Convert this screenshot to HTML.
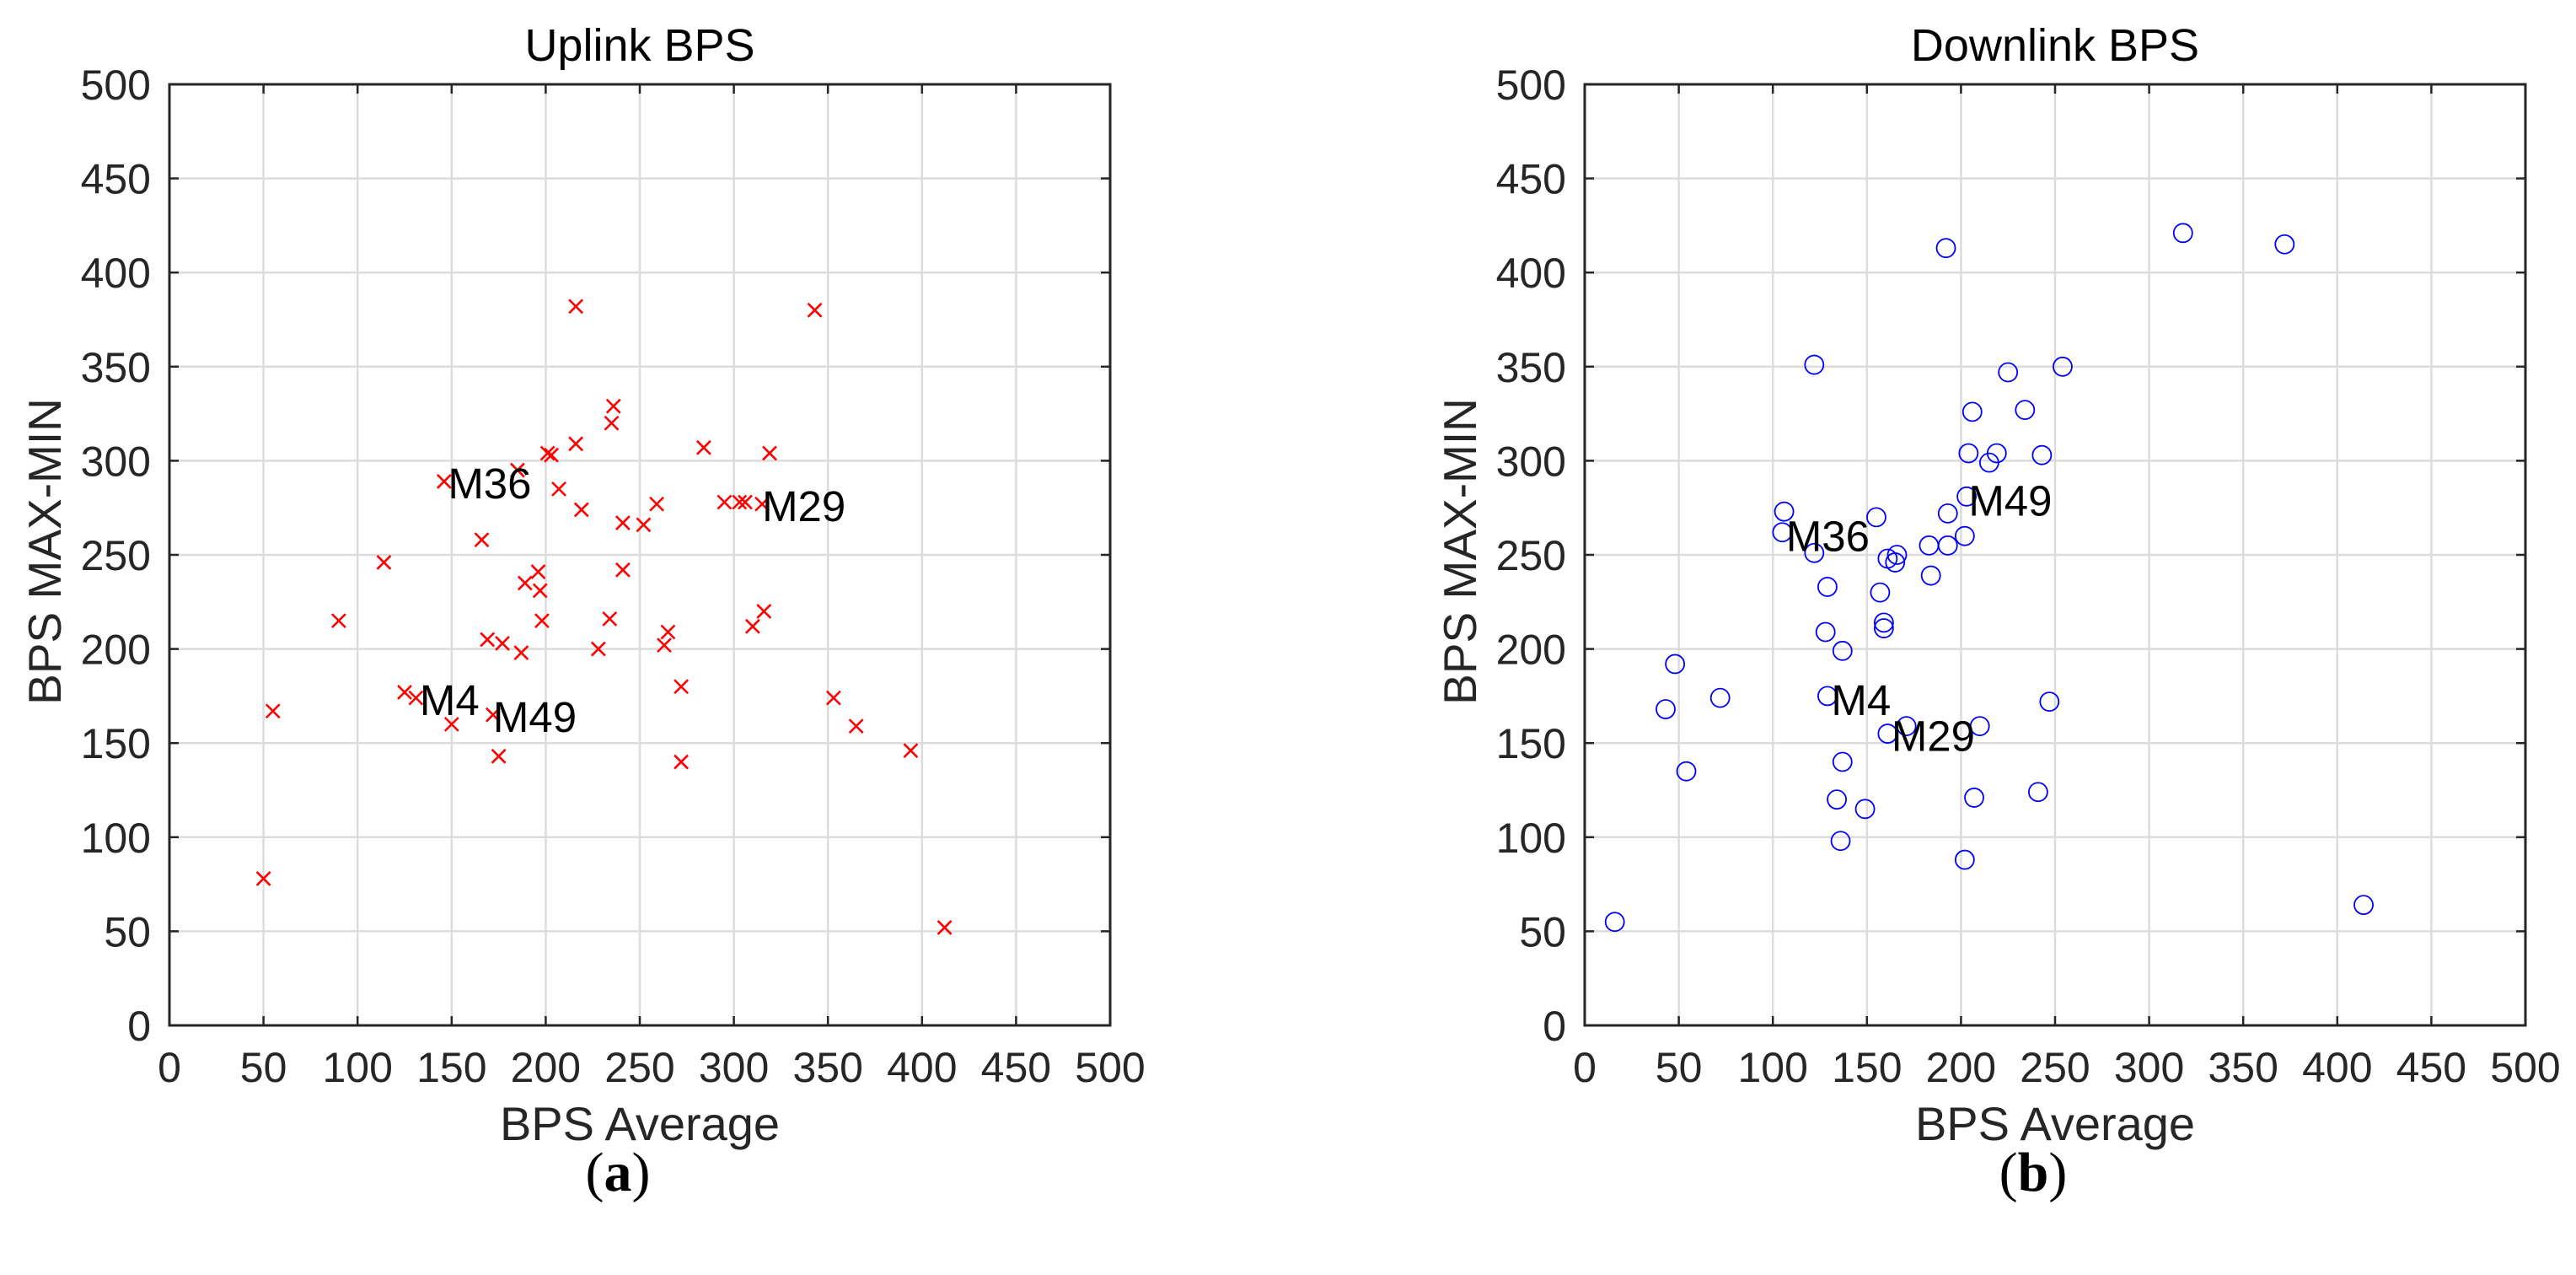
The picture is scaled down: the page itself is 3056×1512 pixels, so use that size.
<!DOCTYPE html>
<html><head><meta charset="utf-8"><style>
body{margin:0;background:#fff}
svg text{font-family:"Liberation Sans",sans-serif}
</style></head><body>
<svg id="fig" width="3056" height="1507" xmlns="http://www.w3.org/2000/svg"></svg>
<script>
const xTicks=[0,50,100,150,200,250,300,350,400,450,500];
const yTicks=[0,50,100,150,200,250,300,350,400,450,500];
const upX=[50,55,90,114,125,131,146,150,166,169,172,175,177,185,187,189,196,197,198,201,203,207,216,216,219,228,234,235,236,241,241,252,259,263,265,272,272,284,295,303,306,315,310,316,319,343,353,365,394,412];
const upY=[78,167,215,246,177,174,289,160,258,205,165,143,203,295,198,235,241,231,215,304,303,285,309,382,274,200,216,320,329,267,242,266,277,202,209,180,140,307,278,278,278,277,212,220,304,380,174,159,146,52];
const dnX=[16,43,48,54,72,105,106,122,122,128,129,129,134,136,137,137,149,155,157,159,159,161,161,165,166,171,183,184,192,193,193,202,202,203,204,206,207,210,215,219,225,234,241,243,247,254,318,372,414];
const dnY=[55,168,192,135,174,262,273,351,251,209,233,175,120,98,199,140,115,270,230,211,214,155,248,246,250,159,255,239,413,255,272,260,88,281,304,326,121,159,299,304,347,327,124,303,172,350,421,415,64];
const upLabels=["M36","M29","M4","M49"];
const upLabX=[148,315,133,172];
const upLabY=[288,276,173,164];
const dnLabels=["M36","M49","M4","M29"];
const dnLabX=[107,204,131,163];
const dnLabY=[260,279,173,154];

const NS="http://www.w3.org/2000/svg";
const svg=document.getElementById('fig');
function mk(tag,attrs,parent){const e=document.createElementNS(NS,tag);for(const k in attrs)e.setAttribute(k,attrs[k]);(parent||svg).appendChild(e);return e;}
function panel(id,left,title,sub,xs,ys,marker,labs,lx,ly){
  const top=100,size=1116,bottom=top+size;
  const sx=v=>left+v/500*size, sy=v=>bottom-v/500*size;
  const g=mk('g',{});
  
  
  xTicks.forEach(t=>{const l=mk('line',{x1:sx(t),x2:sx(t),y1:top,y2:bottom,stroke:'#dcdcdc','stroke-width':2.5},g);});
  yTicks.forEach(t=>{const l=mk('line',{x1:left,x2:left+size,y1:sy(t),y2:sy(t),stroke:'#dcdcdc','stroke-width':2.5},g);});
  xTicks.forEach(t=>{mk('line',{x1:sx(t),x2:sx(t),y1:bottom,y2:bottom-11,stroke:'#262626','stroke-width':2.5},g);mk('line',{x1:sx(t),x2:sx(t),y1:top,y2:top+11,stroke:'#262626','stroke-width':2.5},g);
    const tx=mk('text',{x:sx(t),y:bottom+67,'font-size':50,fill:'#262626','text-anchor':'middle'},g);tx.textContent=t;});
  yTicks.forEach(t=>{mk('line',{x1:left,x2:left+11,y1:sy(t),y2:sy(t),stroke:'#262626','stroke-width':2.5},g);mk('line',{x1:left+size,x2:left+size-11,y1:sy(t),y2:sy(t),stroke:'#262626','stroke-width':2.5},g);
    const tx=mk('text',{x:left-22,y:sy(t)+18,'font-size':50,fill:'#262626','text-anchor':'end'},g);tx.textContent=t;});
  const fr=mk('rect',{x:left,y:top,width:size,height:size,fill:'none',stroke:'#262626','stroke-width':3},g);
  
  xs.forEach((v,i)=>{const cx=sx(v),cy=sy(ys[i]);let m;
    if(marker==='x'){m=mk('path',{d:`M${cx-8},${cy-8}L${cx+8},${cy+8}M${cx-8},${cy+8}L${cx+8},${cy-8}`,stroke:'#ff0000','stroke-width':2.6,fill:'none'},g);}
    else{m=mk('circle',{cx:cx,cy:cy,r:11,stroke:'#0000ff','stroke-width':1.8,fill:'none'},g);}
    });
  labs.forEach((s,i)=>{const t=mk('text',{x:sx(lx[i]),y:sy(ly[i])+18,'font-size':51,fill:'#000'},g);t.textContent=s;});
  const tt=mk('text',{x:left+size/2,y:72,'font-size':54,fill:'#000','text-anchor':'middle'},g);tt.textContent=title;
  const xl=mk('text',{x:left+size/2,y:1352,'font-size':56,fill:'#262626','text-anchor':'middle'},g);xl.textContent='BPS Average';
  const yx=left-129,yy=top+size/2-4;
  const yl=mk('text',{x:yx,y:yy,'font-size':55,fill:'#262626','text-anchor':'middle',transform:`rotate(-90 ${yx} ${yy})`},g);yl.textContent='BPS MAX-MIN';
  const cap=mk('text',{x:left+size/2-26,y:1412,'font-size':66,fill:'#000','text-anchor':'middle'},g);
  cap.style.fontFamily='"Liberation Serif",serif';cap.textContent='(';
  const b=mk('tspan',{'font-weight':'bold'},cap);b.textContent=sub;
  const c2=mk('tspan',{},cap);c2.textContent=')';
  
}
panel('uplink',201,'Uplink BPS','a',upX,upY,'x',upLabels,upLabX,upLabY);
panel('downlink',1880,'Downlink BPS','b',dnX,dnY,'o',dnLabels,dnLabX,dnLabY);
</script>
</body></html>
